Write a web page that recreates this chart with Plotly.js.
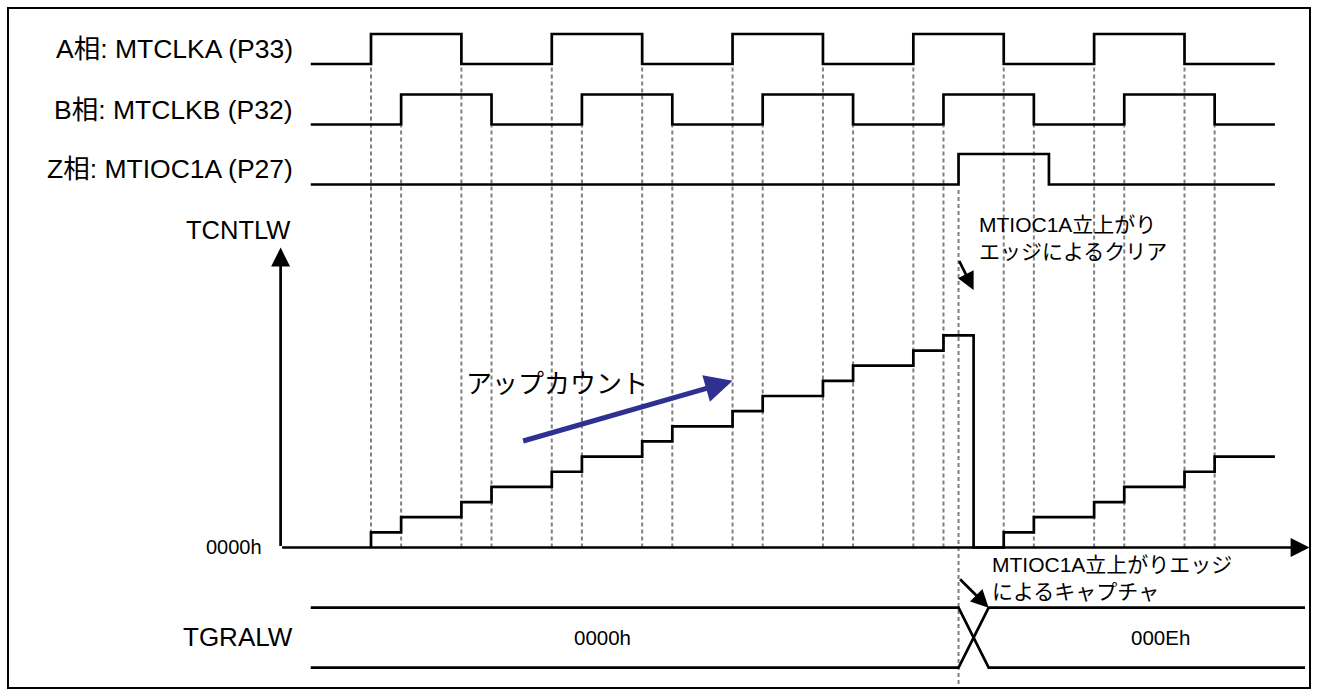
<!DOCTYPE html>
<html><head><meta charset="utf-8">
<script src="https://cdn.plot.ly/plotly-3.0.1.min.js"></script>
<style>html,body{margin:0;padding:0;background:#fff}#chart{width:1318px;height:696px}</style>
</head><body><div id="chart"></div>
<script>
// ---------------- data (time in edge units, levels in logic / count units) ----------------
const aEdgeTimes = [0, 3, 6, 9, 12, 15, 18, 21, 24, 27];
const bEdgeTimes = [1, 4, 7, 10, 13, 16, 19, 22, 25, 28];
const aTime  = [-2, 0, 3, 6, 9, 12, 15, 18, 21, 24, 27, 30];
const aLevel = [0, 1, 0, 1, 0, 1, 0, 1, 0, 1, 0, 0];
const bTime  = [-2, 1, 4, 7, 10, 13, 16, 19, 22, 25, 28, 30];
const bLevel = [0, 1, 0, 1, 0, 1, 0, 1, 0, 1, 0, 0];
const zTime  = [-2, 19.5, 22.5, 30];
const zLevel = [0, 1, 0, 0];
const zEdgeTime = 19.5;
const counterTime  = [0, 0, 1, 3, 4, 6, 7, 9, 10, 12, 13, 15, 16, 18, 19, 20, 21, 22, 24, 25, 27, 28, 30];
const counterValue = [0, 1, 2, 3, 4, 5, 6, 7, 8, 9, 10, 11, 12, 13, 14, 0, 1, 2, 3, 4, 5, 6, 6];
const busTime  = [-2, 19.5, 20.5, 31];
const busUpper = [1, 1, 0, 0];
const busLower = [0, 0, 1, 1];
const busTexts = ['0000h', '000Eh'];
const busTextTimes = [7.67, 26.2];
const signalLabels = ['A相: MTCLKA (P33)', 'B相: MTCLKB (P32)', 'Z相: MTIOC1A (P27)'];
const counterLabel = 'TCNTLW';
const counterZeroLabel = '0000h';
const registerLabel = 'TGRALW';
const upCountLabel = 'アップカウント';
const upArrowTail = [5, 7];
const upArrowTip = [12, 11];
const clearNote = 'MTIOC1A立上がり<br>エッジによるクリア';
const clearArrowTail = [19.5, 19];
const clearArrowTip = [20, 17];
const captureNote = 'MTIOC1A立上がりエッジ<br>によるキャプチャ';
const captureArrowTail = [19.5, 1.5];
const captureArrowTip = [20.5, 1];

// ---------------- layout helpers ----------------
const W = 1318, H = 696;
const T0PX = 371, PPT = 30.13;           // pixel of t=0, pixels per time unit
const py = p => 1 - p / H;               // pixel row -> paper
const px = p => p / W;                   // pixel col -> paper
function dom(zeroPx, ppu, r0, r1) { return [1 - (zeroPx - r0 * ppu) / H, 1 - (zeroPx - r1 * ppu) / H]; }

const FONT = 'Liberation Sans, Arial, "Noto Sans CJK JP", sans-serif';
const JFONT = '"Noto Sans CJK JP", "Liberation Sans", sans-serif';
const GRAY = '#808080';
const lineStyle = {color: '#000', width: 2.7};

const hidden = {visible: false, fixedrange: true, showgrid: false, zeroline: false};

const traces = [
  {x: aTime, y: aLevel, yaxis: 'y', mode: 'lines', line: Object.assign({shape: 'hv'}, lineStyle), hoverinfo: 'skip'},
  {x: bTime, y: bLevel, yaxis: 'y2', mode: 'lines', line: Object.assign({shape: 'hv'}, lineStyle), hoverinfo: 'skip'},
  {x: zTime, y: zLevel, yaxis: 'y3', mode: 'lines', line: Object.assign({shape: 'hv'}, lineStyle), hoverinfo: 'skip'},
  {x: counterTime, y: counterValue, yaxis: 'y4', mode: 'lines', line: Object.assign({shape: 'hv'}, lineStyle), hoverinfo: 'skip'},
  {x: busTime, y: busUpper, yaxis: 'y5', mode: 'lines', line: lineStyle, hoverinfo: 'skip'},
  {x: busTime, y: busLower, yaxis: 'y5', mode: 'lines', line: lineStyle, hoverinfo: 'skip'}
];

const shapes = [];
const dashLine = {color: GRAY, width: 2, dash: '4px,3px'};
aEdgeTimes.forEach(t => shapes.push({type: 'line', xref: 'x', yref: 'paper', x0: t, x1: t, y0: py(547.5), y1: py(65), line: dashLine, layer: 'below'}));
bEdgeTimes.forEach(t => shapes.push({type: 'line', xref: 'x', yref: 'paper', x0: t, x1: t, y0: py(547.5), y1: py(126), line: dashLine, layer: 'below'}));
shapes.push({type: 'line', xref: 'x', yref: 'paper', x0: zEdgeTime, x1: zEdgeTime, y0: py(684), y1: py(187), line: dashLine, layer: 'below'});
shapes.push({type: 'rect', xref: 'paper', yref: 'paper', x0: px(8), x1: px(1310), y0: py(688), y1: py(8), line: {color: '#000', width: 2}});

const ann = [];
const labelRows = [49, 109.5, 169.5];
signalLabels.forEach((s, i) => ann.push({text: s, xref: 'paper', yref: 'paper', x: px(295), y: py(labelRows[i]), xanchor: 'right', yanchor: 'middle', showarrow: false, font: {family: FONT, size: 26.5, color: '#000'}}));
ann.push({text: counterLabel, xref: 'paper', yref: 'paper', x: px(292), y: py(230), xanchor: 'right', yanchor: 'middle', showarrow: false, font: {family: FONT, size: 25.5, color: '#000'}});
ann.push({text: registerLabel, xref: 'paper', yref: 'paper', x: px(295), y: py(637), xanchor: 'right', yanchor: 'middle', showarrow: false, font: {family: FONT, size: 26, color: '#000'}});
ann.push({text: counterZeroLabel, xref: 'paper', yref: 'paper', x: px(264), y: py(547), xanchor: 'right', yanchor: 'middle', showarrow: false, font: {family: FONT, size: 20, color: '#000'}});
busTexts.forEach((s, i) => ann.push({text: s, xref: 'x', yref: 'y5', x: busTextTimes[i], y: 0.5, xanchor: 'center', yanchor: 'middle', showarrow: false, font: {family: FONT, size: 20.5, color: '#000'}}));
ann.push({text: upCountLabel, xref: 'paper', yref: 'paper', x: px(464), y: py(381), xanchor: 'left', yanchor: 'middle', showarrow: false, font: {family: JFONT, size: 26, color: '#000'}});
ann.push({text: clearNote, xref: 'paper', yref: 'paper', x: px(977), y: py(237.5), xanchor: 'left', yanchor: 'middle', align: 'left', showarrow: false, font: {family: FONT, size: 21, color: '#000'}});
ann.push({text: captureNote, xref: 'paper', yref: 'paper', x: px(990), y: py(577.5), xanchor: 'left', yanchor: 'middle', align: 'left', showarrow: false, font: {family: FONT, size: 21, color: '#000'}});
// axes arrows of the counter plot
ann.push({text: '', xref: 'x', yref: 'y4', axref: 'x', ayref: 'y4', x: -3, y: 19.8, ax: -3, ay: 0, showarrow: true, arrowhead: 2, arrowsize: 1.4, arrowwidth: 2.7, arrowcolor: '#000'});
ann.push({text: '', xref: 'x', yref: 'y4', axref: 'x', ayref: 'y4', x: 31.15, y: 0, ax: -3, ay: 0, showarrow: true, arrowhead: 2, arrowsize: 1.4, arrowwidth: 2.7, arrowcolor: '#000'});
// up-count arrow
ann.push({text: '', xref: 'x', yref: 'y4', axref: 'x', ayref: 'y4', x: upArrowTip[0], y: upArrowTip[1], ax: upArrowTail[0], ay: upArrowTail[1], showarrow: true, arrowhead: 2, arrowsize: 1.1, arrowwidth: 5, arrowcolor: '#2e3192'});
// clear arrow
ann.push({text: '', xref: 'x', yref: 'y4', axref: 'x', ayref: 'y4', x: clearArrowTip[0], y: clearArrowTip[1], ax: clearArrowTail[0], ay: clearArrowTail[1], showarrow: true, arrowhead: 2, arrowsize: 1.3, arrowwidth: 2.7, arrowcolor: '#000'});
// capture arrow
ann.push({text: '', xref: 'x', yref: 'y5', axref: 'x', ayref: 'y5', x: captureArrowTip[0], y: captureArrowTip[1], ax: captureArrowTail[0], ay: captureArrowTail[1], showarrow: true, arrowhead: 2, arrowsize: 1.3, arrowwidth: 2.7, arrowcolor: '#000'});

const layout = {
  width: W, height: H, autosize: false,
  margin: {l: 0, r: 0, t: 0, b: 0, pad: 0},
  paper_bgcolor: '#fff', plot_bgcolor: 'rgba(0,0,0,0)',
  showlegend: false,
  xaxis: Object.assign({range: [-T0PX / PPT, (W - T0PX) / PPT], domain: [0, 1], anchor: 'y4'}, hidden),
  yaxis:  Object.assign({range: [-0.1, 1.1], domain: dom(64, 30, -0.1, 1.1), anchor: 'x'}, hidden),
  yaxis2: Object.assign({range: [-0.1, 1.1], domain: dom(124.5, 30, -0.1, 1.1), anchor: 'x'}, hidden),
  yaxis3: Object.assign({range: [-0.1, 1.1], domain: dom(184.5, 30.5, -0.1, 1.1), anchor: 'x'}, hidden),
  yaxis4: Object.assign({range: [-0.5, 20.5], domain: dom(547.5, 15.15, -0.5, 20.5), anchor: 'x'}, hidden),
  yaxis5: Object.assign({range: [-0.1, 1.1], domain: dom(667.7, 60, -0.1, 1.1), anchor: 'x'}, hidden),
  shapes: shapes,
  annotations: ann
};

Plotly.newPlot('chart', traces, layout, {displayModeBar: false, staticPlot: true});
</script>
</body></html>
